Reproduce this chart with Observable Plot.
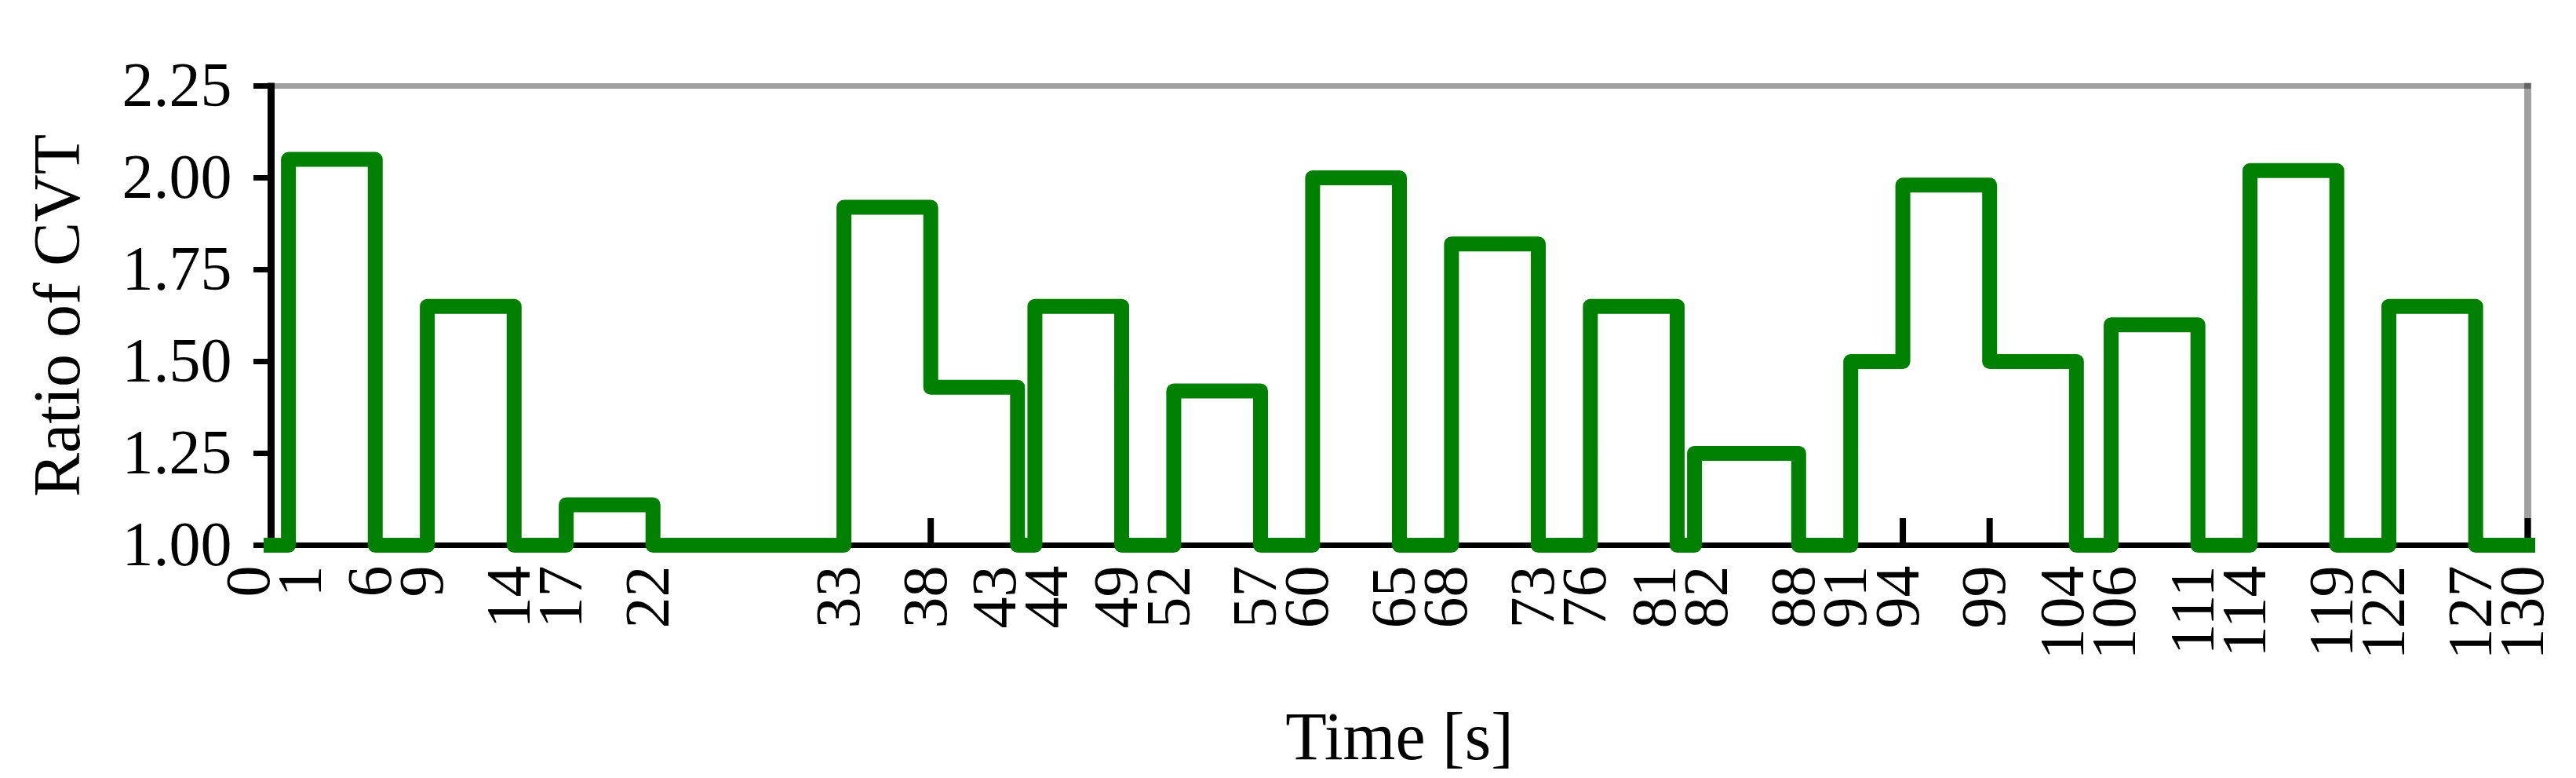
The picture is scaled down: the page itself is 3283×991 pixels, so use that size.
<!DOCTYPE html>
<html><head><meta charset="utf-8">
<script src="https://cdn.jsdelivr.net/npm/d3@7"></script>
<script src="https://cdn.jsdelivr.net/npm/@observablehq/plot@0.6"></script>
<style>body{margin:0;background:#fff}</style>
</head><body><div id="chart"></div>
<script>
// Step boundaries (s) – also the x tick labels
const timeTicks = [0,1,6,9,14,17,22,33,38,43,44,49,52,57,60,65,68,73,76,81,82,88,91,94,99,104,106,111,114,119,122,127,130];
// CVT ratio held on each interval [timeTicks[i], timeTicks[i+1])
const ratioLevels = [1.00,2.05,1.00,1.65,1.00,1.11,1.00,1.92,1.43,1.00,1.65,1.00,1.42,1.00,2.00,1.00,1.82,1.00,1.65,1.00,1.25,1.00,1.50,1.98,1.50,1.00,1.60,1.00,2.02,1.00,1.65,1.00];
const yTicks = [1.00,1.25,1.50,1.75,2.00,2.25];
const xTitle = "Time [s]";
const yTitle = "Ratio of CVT";

const W = 3283, H = 991, ML = 345, MR = 62, MT = 109, MB = 297;
const FONT = "'Liberation Serif', 'Times New Roman', serif";
const frameH = H - MT - MB;

const steps = timeTicks.map((t, i) => ({t, r: ratioLevels[Math.min(i, ratioLevels.length - 1)]}));

// push crowded tick labels apart
const pxPerSec = (W - ML - MR) / (timeTicks[timeTicks.length-1] - timeTicks[0]);
const minGap = 66;
const shifts = timeTicks.map(() => 0);
for (let i = 0; i < timeTicks.length - 1; i++) {
  const g = (timeTicks[i+1] - timeTicks[i]) * pxPerSec;
  if (g < minGap) { const s = (minGap - g) / 2; shifts[i] -= s; shifts[i+1] += s; }
}
const labelMarks = timeTicks.map((t, i) => Plot.text([t], {
  x: d => d, text: d => String(d), frameAnchor: "bottom", rotate: -90,
  textAnchor: "end", lineAnchor: "middle", dy: 26, dx: -6 + shifts[i],
  fontSize: 80, fontFamily: FONT, fill: "black"
}));

const chart = Plot.plot({
  width: W, height: H,
  marginLeft: ML, marginRight: MR, marginTop: MT, marginBottom: MB,
  style: {fontFamily: FONT, background: "white", color: "black"},
  x: {domain: [0, 130]},
  y: {domain: [1, 2.25]},
  marks: [
    Plot.ruleY([2.25], {stroke: "black", strokeOpacity: 0.373, strokeWidth: 7, insetRight: -4.5}),
    Plot.ruleX([130], {stroke: "black", strokeOpacity: 0.373, strokeWidth: 9, insetTop: -3.5}),
    Plot.ruleX(timeTicks, {x: d => d, stroke: "black", strokeWidth: 8, insetTop: frameH - 34}),
    Plot.ruleX([0], {stroke: "black", strokeWidth: 9, insetTop: -3.5}),
    Plot.ruleY([1], {stroke: "black", strokeWidth: 7}),
    Plot.axisY({ticks: yTicks, tickFormat: d => d.toFixed(2), tickSize: 22, tickPadding: 28,
      strokeWidth: 7, fontSize: 80, fontFamily: FONT, label: null}),
    Plot.axisX({ticks: [], label: null}),
    ...labelMarks,
    Plot.line(steps, {x: "t", y: "r", curve: "step-after", stroke: "#008000", strokeWidth: 19,
      strokeLinejoin: "round", strokeLinecap: "square"}),
    Plot.text([xTitle], {frameAnchor: "bottom", dy: 272, lineAnchor: "bottom", text: d => d,
      fontSize: 86, fontFamily: FONT, fill: "black"}),
    Plot.text([yTitle], {frameAnchor: "left", dx: -245, dy: 0, rotate: -90, lineAnchor: "bottom",
      textAnchor: "middle", text: d => d, fontSize: 84, fontFamily: FONT, fill: "black"})
  ]
});
document.getElementById("chart").appendChild(chart);
</script></body></html>
